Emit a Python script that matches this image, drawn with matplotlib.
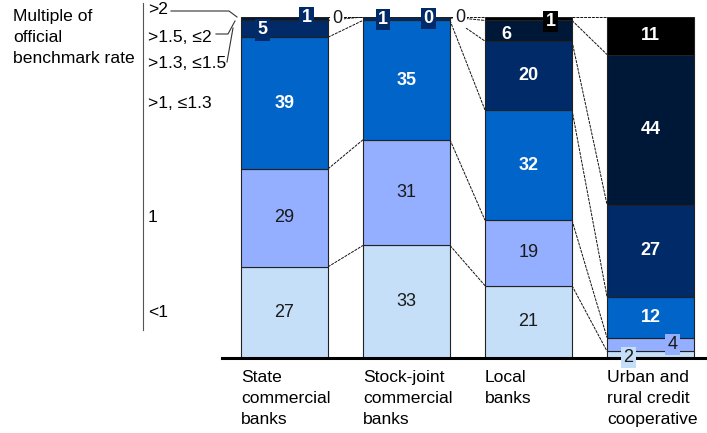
import numpy as np
import matplotlib
matplotlib.use("Agg")
import matplotlib.pyplot as plt
from matplotlib.lines import Line2D
from matplotlib.transforms import blended_transform_factory

plt.rcParams["font.family"] = ["Liberation Sans", "DejaVu Sans"]

# ---- data: share of loans by multiple of the official benchmark rate (%) ----
categories = ["State\ncommercial\nbanks", "Stock-joint\ncommercial\nbanks",
              "Local\nbanks", "Urban and\nrural credit\ncooperative"]
bands = ["<1", "1", ">1, \u22641.3", ">1.3, \u22641.5", ">1.5, \u22642", ">2"]
below_1 = [27, 33, 21, 2]
equal_1 = [29, 31, 19, 4]
from_1_to_13 = [39, 35, 32, 12]
from_13_to_15 = [5, 1, 20, 27]
from_15_to_2 = [1, 0, 6, 44]
above_2 = [0, 0, 1, 11]

series = [below_1, equal_1, from_1_to_13, from_13_to_15, from_15_to_2, above_2]
colors = ["#C6DFF9", "#94AFFF", "#0064C8", "#002B68", "#001838", "#000000"]
dark_text = "#1a1a1a"
light_bands = {0, 1}

# small segments get their label nudged aside: (bar, band) -> (dx, dy, box colour)
label_spots = {
    (0, 3): (-0.18, -0.3, "#002B68"),
    (0, 4): (0.18, 0.35, "#002B68"),
    (0, 5): (0.43, -0.3, "white"),
    (1, 3): (-0.19, -0.3, "#002B68"),
    (1, 4): (0.18, -0.4, "#002B68"),
    (1, 5): (0.44, -0.2, "white"),
    (2, 4): (-0.18, -1.2, None),
    (2, 5): (0.18, -0.8, "#000000"),
    (3, 0): (-0.18, -0.8, "#C6DFF9"),
    (3, 1): (0.18, 0.0, "#94AFFF"),
}

FS = 12.6      # text size
VFS = 13       # value label size

W, H = 707, 433
fig = plt.figure(figsize=(W / 100, H / 100), dpi=100)
ax = fig.add_axes([222 / W, (H - 358) / H, (707 - 222) / W, (358 - 17) / H])
ax.set_xlim(-0.512, 3.463)
ax.set_ylim(0, 100)
ax.set_axis_off()

vals = np.array(series, dtype=float)          # bands x banks
shares = vals / vals.sum(axis=0) * 100.0
cum = np.vstack([np.zeros(len(categories)), np.cumsum(shares, axis=0)])
x = np.arange(len(categories))
bw = 0.713

# stacked bars
for b in range(len(bands)):
    ax.bar(x, shares[b], bw, bottom=cum[b], color=colors[b],
           edgecolor="#222222", linewidth=0.8, zorder=2)

# connectors between neighbouring bars at each band boundary
for i in range(len(categories) - 1):
    for k in range(1, len(bands) + 1):
        ax.plot([x[i] + bw / 2, x[i + 1] - bw / 2], [cum[k, i], cum[k, i + 1]],
                color="#111111", lw=0.7, ls=(0, (3, 1)), zorder=1)

# value labels
for i in range(len(categories)):
    for b in range(len(bands)):
        v = vals[b, i]
        mid = (cum[b, i] + cum[b + 1, i]) / 2
        txt_col = dark_text if b in light_bands else "white"
        weight = "normal" if b in light_bands else "bold"
        if (i, b) in label_spots:
            dx, dy, box = label_spots[(i, b)]
            if box == "white":
                txt_col, weight = dark_text, "normal"
            bbox = None if box is None else dict(boxstyle="square,pad=0.12",
                                                 fc=box, ec="none")
            ax.text(x[i] + dx, mid + dy, f"{v:.0f}", ha="center", va="center",
                    fontsize=VFS, color=txt_col, fontweight=weight,
                    bbox=bbox, zorder=6)
        else:
            ax.text(x[i], mid, f"{v:.0f}", ha="center", va="center",
                    fontsize=VFS, color=txt_col, fontweight=weight, zorder=4)

# baseline
ax.axhline(0, color="black", lw=2.2, zorder=5, clip_on=False)

# category labels under the bars, left-aligned with each bar
for i, name in enumerate(categories):
    ax.text(x[i] - bw / 2, -3.6, name, ha="left", va="top", fontsize=FS,
            linespacing=1.5, color="black")


def fpx(px, py):
    return px / W, 1 - py / H


# band key on the left
fig.text(*fpx(13, 9), "Multiple of\nofficial\nbenchmark rate", ha="left",
         va="top", fontsize=FS, linespacing=1.5)
fig.add_artist(Line2D([143 / W, 143 / W], [1 - 3 / H, 1 - 330 / H],
                      color="#555555", lw=0.8, transform=fig.transFigure))

blend = blended_transform_factory(fig.transFigure, ax.transData)
for b in range(3):
    mid = (cum[b, 0] + cum[b + 1, 0]) / 2
    fig.text(148 / W, mid, bands[b], transform=blend, ha="left", va="center",
             fontsize=FS)

top_key = [(bands[5], 10), (bands[4], 37), (bands[3], 63)]
for name, py in top_key:
    fig.text(*fpx(148, py), name, ha="left", va="center", fontsize=FS)

leaders = [
    [(171, 11), (229, 11), (237, 17)],
    [(216, 34), (228, 34), (235, 21)],
    [(227, 62), (233, 28)],
]
for pts in leaders:
    xs = [p[0] / W for p in pts]
    ys = [1 - p[1] / H for p in pts]
    fig.add_artist(Line2D(xs, ys, color="#333333", lw=0.8,
                          transform=fig.transFigure))

fig.savefig("out.png", dpi=100)
